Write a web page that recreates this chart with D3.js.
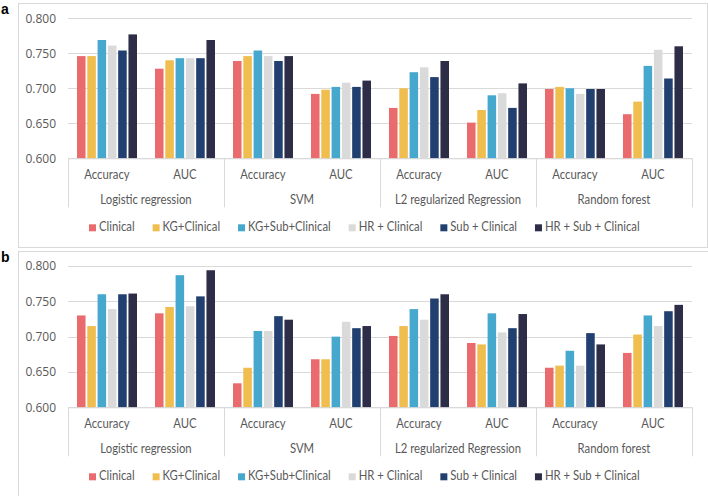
<!DOCTYPE html>
<html><head><meta charset="utf-8">
<script src="https://cdn.jsdelivr.net/npm/d3@7"></script>
<style>body{margin:0;background:#fff}svg{display:block}</style>
</head><body><svg id="c" width="708" height="496"></svg>
<script>
const groups = ["Logistic regression","SVM","L2 regularized Regression","Random forest"];
const metrics = ["Accuracy","AUC"];
const series = ["Clinical","KG+Clinical","KG+Sub+Clinical","HR + Clinical","Sub + Clinical","HR + Sub + Clinical"];
const colors = ["#E96B6D","#F0BD4F","#46A8CD","#DADADA","#21406F","#2D2D47"];
const yTicks = [0.600,0.650,0.700,0.750,0.800];
// values per series: LR Acc, LR AUC, SVM Acc, SVM AUC, L2 Acc, L2 AUC, RF Acc, RF AUC
const panelA = [
  [0.746,0.728,0.739,0.692,0.672,0.651,0.699,0.663],
  [0.746,0.740,0.746,0.698,0.700,0.669,0.702,0.681],
  [0.769,0.743,0.754,0.702,0.723,0.690,0.700,0.732],
  [0.761,0.743,0.746,0.708,0.730,0.693,0.692,0.755],
  [0.754,0.743,0.739,0.702,0.716,0.672,0.699,0.714],
  [0.777,0.769,0.746,0.711,0.739,0.707,0.699,0.760]
];
const panelB = [
  [0.730,0.733,0.634,0.668,0.701,0.691,0.656,0.677],
  [0.715,0.742,0.656,0.668,0.715,0.689,0.659,0.703],
  [0.760,0.787,0.708,0.700,0.739,0.733,0.680,0.730],
  [0.739,0.743,0.708,0.721,0.724,0.706,0.659,0.715],
  [0.760,0.757,0.729,0.712,0.754,0.712,0.705,0.736],
  [0.761,0.794,0.724,0.715,0.760,0.732,0.689,0.745]
];

const svg = d3.select("#c");
const catFont = "Lato, 'Liberation Sans', sans-serif";
const tickFont = "'Open Sans','Segoe UI',sans-serif";
const txt = "#595959", grid = "#D9D9D9";
const SX = 0.87;
const cats = [];
groups.forEach(g => metrics.forEach(m => cats.push(g + "|" + m)));

function panel(letter, data, frame, y0, y1) {
  const g = svg.append("g");
  g.append("rect").attr("x", 18.5).attr("y", frame[0]).attr("width", frame[2]).attr("height", frame[1])
    .attr("fill", "none").attr("stroke", grid).attr("stroke-width", 1);
  g.append("text").attr("x", 1).attr("y", y1 - 4).text(letter)
    .attr("font-family", "Arial, 'Liberation Sans', sans-serif").attr("font-weight", "bold")
    .attr("font-size", 14).attr("fill", "#000");
  const x0 = d3.scaleBand().domain(cats).range([68, 692]);
  const xG = d3.scaleBand().domain(groups).range([68, 692]);
  const x1 = d3.scaleBand().domain(series).range([9, 69]).paddingInner(0.17);
  const y = d3.scaleLinear().domain([0.6, 0.8]).range([y0, y1]);
  // grid
  g.append("g").selectAll("line").data(yTicks).join("line")
    .attr("x1", 68).attr("x2", 692).attr("y1", d => Math.round(y(d)) + 0.5).attr("y2", d => Math.round(y(d)) + 0.5)
    .attr("stroke", grid).attr("stroke-width", 1);
  // y axis labels
  const ya = g.append("g").attr("transform", "translate(68,0)")
    .call(d3.axisLeft(y).tickValues(yTicks).tickFormat(d3.format(".3f")).tickSize(0).tickPadding(12));
  ya.select(".domain").remove();
  ya.selectAll("text").attr("font-family", tickFont).attr("font-size", 12).attr("fill", txt);
  // bars
  series.forEach((s, si) => {
    g.append("g").selectAll("rect").data(data[si]).join("rect")
      .attr("x", (d, i) => x0(cats[i]) + x1(s))
      .attr("width", x1.bandwidth())
      .attr("y", d => y(d))
      .attr("height", d => y(0.6) - y(d))
      .attr("fill", colors[si]);
  });
  // separators
  const seps = groups.map(gr => xG(gr)).concat([692]);
  g.append("g").selectAll("line").data(seps).join("line")
    .attr("x1", d => Math.round(d) + 0.5).attr("x2", d => Math.round(d) + 0.5)
    .attr("y1", y0).attr("y2", y0 + 49).attr("stroke", grid);
  // bottom axis for metric labels
  const xa = g.append("g").attr("transform", `translate(0,${y0})`)
    .call(d3.axisBottom(x0).tickSize(0).tickPadding(0).tickFormat(d => d.split("|")[1]));
  xa.select(".domain").attr("stroke", grid);
  xa.selectAll("text").attr("dy", null).attr("y", 21).attr("transform", `scale(${SX},1)`)
    .attr("font-family", catFont).attr("font-size", 13).attr("fill", txt);
  const xg = g.append("g").attr("transform", `translate(0,${y0})`)
    .call(d3.axisBottom(xG).tickSize(0).tickPadding(0));
  xg.select(".domain").remove();
  xg.selectAll("text").attr("dy", null).attr("y", 46).attr("transform", `scale(${SX},1)`)
    .attr("font-family", catFont).attr("font-size", 13).attr("fill", txt);
  // legend
  const lg = g.append("g");
  let lx = 89;
  series.forEach((s, si) => {
    lg.append("rect").attr("x", lx).attr("y", y0 + 66).attr("width", 7).attr("height", 7).attr("fill", colors[si]);
    const t = lg.append("text").attr("transform", `translate(${lx + 10},${y0 + 73}) scale(${SX},1)`).text(s)
      .attr("font-family", catFont).attr("font-size", 13).attr("fill", txt);
    lx += 10 + t.node().getComputedTextLength() * SX + 18;
  });
}
panel("a", panelA, [3.5, 244, 689], 158.3, 18.3);
panel("b", panelB, [251.5, 260, 700], 407.3, 266);
</script></body></html>
